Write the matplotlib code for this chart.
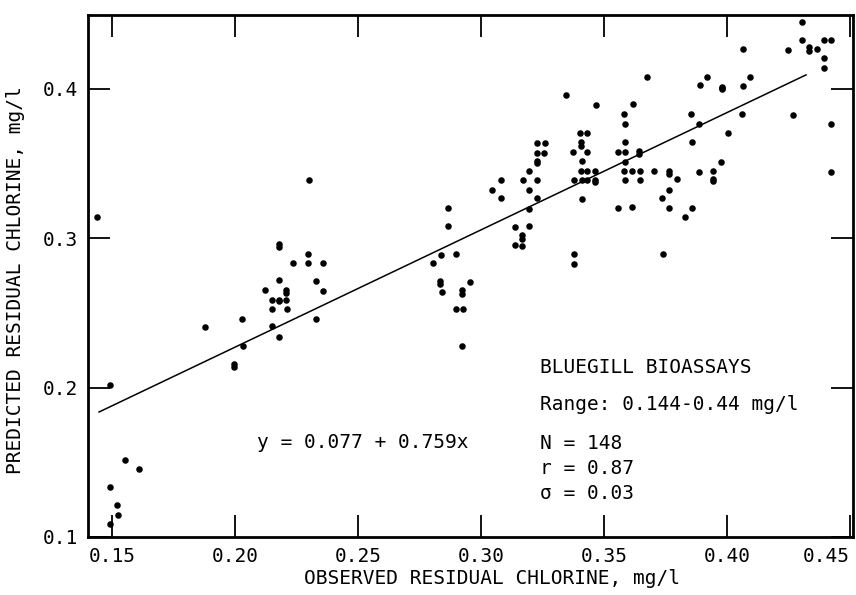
import numpy as np
import matplotlib
matplotlib.use('Agg')
import matplotlib.pyplot as plt

#typewriter-ish look of the original report figure
plt.rcParams['font.family'] = ['DejaVu Sans Mono']

# observed residual chlorine (mg/l)
observed = [0.1440, 0.1493, 0.1553, 0.1608, 0.1491, 0.1520, 0.1524, 0.1493,
            0.1878, 0.1996, 0.1996, 0.2031, 0.2028, 0.2123, 0.2148, 0.2152,
            0.2152, 0.2178, 0.2178, 0.2180, 0.2178, 0.2178, 0.2180, 0.2207,
            0.2207, 0.2207, 0.2209, 0.2234, 0.2295, 0.2298, 0.2300, 0.2327,
            0.2327, 0.2358, 0.2358,
            0.2806, 0.2837, 0.2833, 0.2833, 0.2841, 0.2867, 0.2867, 0.2897,
            0.2897, 0.2924, 0.2924, 0.2927, 0.2924, 0.2955,
            0.3046, 0.3079, 0.3081, 0.3137, 0.3137, 0.3167, 0.3167, 0.3167,
            0.3171, 0.3196, 0.3196, 0.3196, 0.3196, 0.3226, 0.3228, 0.3228,
            0.3228, 0.3228, 0.3228, 0.3256, 0.3259,
            0.3346, 0.3374, 0.3378, 0.3377, 0.3377, 0.3401, 0.3407, 0.3407,
            0.3409, 0.3405, 0.3409, 0.3409, 0.3430, 0.3432, 0.3432, 0.3432,
            0.3463, 0.3463, 0.3463, 0.3467,
            0.3556, 0.3556, 0.3583, 0.3587, 0.3587, 0.3587, 0.3587, 0.3583,
            0.3587, 0.3614, 0.3614, 0.3619, 0.3641, 0.3641, 0.3646, 0.3646,
            0.3676,
            0.3703, 0.3736, 0.3738, 0.3763, 0.3763, 0.3763, 0.3763, 0.3795,
            0.3828, 0.3854, 0.3858, 0.3858, 0.3885, 0.3887, 0.3889, 0.3917,
            0.3943, 0.3943, 0.3943, 0.3976, 0.3978, 0.3978, 0.3978, 0.4005,
            0.4062, 0.4066, 0.4066, 0.4093, 0.4249, 0.4269, 0.4303, 0.4303,
            0.4334, 0.4334, 0.4367, 0.4396, 0.4396, 0.4396, 0.4423, 0.4423,
            0.4423]

# predicted residual chlorine (mg/l)
predicted = [0.3140, 0.2020, 0.1516, 0.1458, 0.1336, 0.1213, 0.1144, 0.1088,
             0.2406, 0.2160, 0.2135, 0.2276, 0.2462, 0.2651, 0.2590, 0.2528,
             0.2410, 0.2960, 0.2940, 0.2718, 0.2590, 0.2580, 0.2337, 0.2655,
             0.2637, 0.2589, 0.2528, 0.2834, 0.2834, 0.2896, 0.3390, 0.2714,
             0.2457, 0.2834, 0.2649,
             0.2834, 0.2885, 0.2716, 0.2696, 0.2642, 0.3202, 0.3079, 0.2896,
             0.2526, 0.2651, 0.2629, 0.2524, 0.2281, 0.2707,
             0.3326, 0.3393, 0.3269, 0.3077, 0.2955, 0.3023, 0.2997, 0.2948,
             0.3389, 0.3452, 0.3326, 0.3197, 0.3079, 0.3572, 0.3637, 0.3520,
             0.3503, 0.3389, 0.3269, 0.3572, 0.3637,
             0.3962, 0.3577, 0.3389, 0.2896, 0.2827, 0.3704, 0.3645, 0.3619,
             0.3518, 0.3453, 0.3389, 0.3266, 0.3704, 0.3577, 0.3453, 0.3389,
             0.3453, 0.3391, 0.3378, 0.3893,
             0.3577, 0.3204, 0.3831, 0.3768, 0.3644, 0.3577, 0.3510, 0.3453,
             0.3391, 0.3453, 0.3209, 0.3900, 0.3583, 0.3565, 0.3453, 0.3391,
             0.4082,
             0.3453, 0.3269, 0.2896, 0.3453, 0.3431, 0.3326, 0.3202, 0.3400,
             0.3142, 0.3833, 0.3644, 0.3200, 0.3447, 0.3766, 0.4025, 0.4082,
             0.3453, 0.3400, 0.3383, 0.3514, 0.4011, 0.3998, 0.4005, 0.3708,
             0.3833, 0.4020, 0.4268, 0.4080, 0.4261, 0.3826, 0.4450, 0.4328,
             0.4280, 0.4257, 0.4268, 0.4328, 0.4209, 0.4140, 0.4328, 0.3768,
             0.3443]

# regression line end points as drawn
fit_x = [0.1447, 0.4321]
fit_y = [0.1837, 0.4094]

xticks = [0.15, 0.20, 0.25, 0.30, 0.35, 0.40, 0.45]
xtick_labels = ['0.15', '0.20', '0.25', '0.30', '0.35', '0.40', '0.45']
yticks = [0.1, 0.2, 0.3, 0.4]
ytick_labels = ['0.1', '0.2', '0.3', '0.4']

fig = plt.figure(figsize=(8.56, 5.95), dpi=100)
ax = fig.add_axes([88/856, 58/595, 765/856, 522/595])

ax.plot(observed, predicted, 'o', color='black', markersize=4.7, markeredgewidth=0)
ax.plot(fit_x, fit_y, color='black', linewidth=1.1)

ax.set_xlim(0.1402, 0.4512)
ax.set_ylim(0.1, 0.4495)
ax.set_xticks(xticks)
ax.set_xticklabels(xtick_labels)
ax.set_yticks(yticks)
ax.set_yticklabels(ytick_labels)
ax.tick_params(direction='in', length=16, width=1.3, top=True, right=True,
               labelsize=14, pad=7)
# last x label sits inside the frame edge in the original
ax.get_xticklabels()[-1].set_horizontalalignment('right')
for s in ax.spines.values():
    s.set_linewidth(2)

# axis labels (x label sits a bit right of center in the original)
fig.text(492/856, 1 - 578/595, 'OBSERVED RESIDUAL CHLORINE, mg/l',
         ha='center', va='center', fontsize=14)
fig.text(16/856, 1 - 280/595, 'PREDICTED RESIDUAL CHLORINE, mg/l',
         ha='center', va='center', rotation=90, fontsize=14)

# annotations
ax.text(0.221, 0.181, 'y = 0.077 + 0.759x', transform=ax.transAxes,
        ha='left', va='center', fontsize=14)
ax.text(0.591, 0.324, 'BLUEGILL BIOASSAYS', transform=ax.transAxes,
        ha='left', va='center', fontsize=14)
ax.text(0.591, 0.253, 'Range: 0.144-0.44 mg/l', transform=ax.transAxes,
        ha='left', va='center', fontsize=14)
ax.text(0.591, 0.180, 'N = 148', transform=ax.transAxes,
        ha='left', va='center', fontsize=14)
ax.text(0.591, 0.132, 'r = 0.87', transform=ax.transAxes,
        ha='left', va='center', fontsize=14)
ax.text(0.591, 0.084, '\u03c3 = 0.03', transform=ax.transAxes,
        ha='left', va='center', fontsize=14)

fig.savefig('out.png', dpi=100)
